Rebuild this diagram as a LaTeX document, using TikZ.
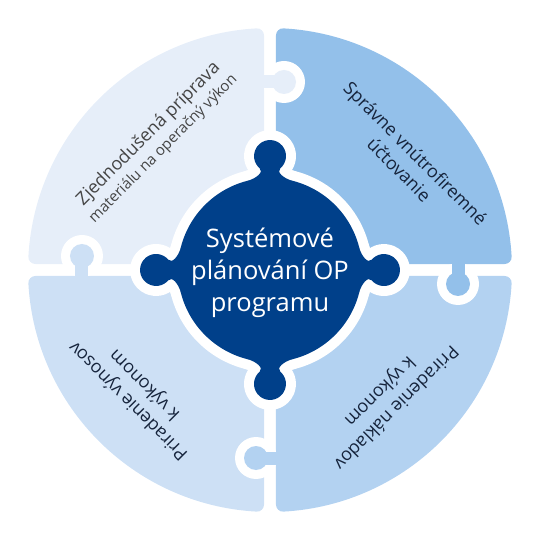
\documentclass[tikz,border=0pt]{standalone}
\usepackage{fontspec}
\setmainfont{Open Sans}
\definecolor{pieceTL}{HTML}{E6EEF9}
\definecolor{pieceTR}{HTML}{93C0EA}
\definecolor{pieceBR}{HTML}{B3D2F1}
\definecolor{pieceBL}{HTML}{CDE0F5}
\definecolor{hub}{HTML}{00408A}
\definecolor{ink}{HTML}{16243C}
\definecolor{muted}{HTML}{454545}
\tikzset{
  lbl/.style={text=ink, align=center, inner sep=0pt, font=\fontsize{18}{23}\selectfont},
  hubtext/.style={text=white, align=center, inner sep=0pt, font=\fontsize{25.5}{32}\selectfont},
}

\begin{document}
\begin{tikzpicture}[x=1pt, y=1pt]

\def\Rh{92}           % hub radius, pt
\def\hh{10}           % white halo round the hub
\useasboundingbox (-270,-270) rectangle (270,270);

% ---------------- quadrant pieces ----------------
\foreach \a/\c in {0/pieceTR, 90/pieceTL, 180/pieceBL, 270/pieceBR} {
  \begin{scope}[rotate=\a]
    % shrunk quarter, stroked round to get the soft corners
    \filldraw[\c, line width=14pt, line join=round] (13,13) -- (3.17:235pt)
      arc[start angle=3.17, end angle=86.83, radius=235pt] -- cycle;
  \end{scope}
}

% ---------------- puzzle tabs ----------------
\foreach \a in {0,90,180,270} {
  \begin{scope}[rotate=\a]
    \fill[white] (188,-14) circle (21pt);
  \end{scope}
}
\foreach \a/\c in {0/pieceTR, 90/pieceTL, 180/pieceBL, 270/pieceBR} {
  \begin{scope}[rotate=\a]
    \fill[\c] (181.5,8) rectangle (194.5,-14);
    \fill[\c] (188,-14) circle (12pt);
  \end{scope}
}

% ---------------- hub with four knobs ----------------
\fill[white] (0,0) circle (\Rh pt + \hh pt);
\foreach \a in {0,90,180,270} {
  \begin{scope}[rotate=\a]
    \draw[white, line width=2*\hh pt, line join=round] (-14:\Rh pt)
      .. controls (91.2,-14.5) and (97.9,-5.7) .. (101.7,-10.3)
      arc[start angle=-140, end angle=140, radius=16pt]
      .. controls (97.9,5.7) and (91.2,14.5) .. (14:\Rh pt) -- cycle;
  \end{scope}
}
\fill[hub] (0,0) circle (\Rh pt);
\foreach \a in {0,90,180,270} {
  \begin{scope}[rotate=\a]
    \fill[hub] (-14:\Rh pt)
      .. controls (91.2,-14.5) and (97.9,-5.7) .. (101.7,-10.3)
      arc[start angle=-140, end angle=140, radius=16pt]
      .. controls (97.9,5.7) and (91.2,14.5) .. (14:\Rh pt) -- cycle;
  \end{scope}
}
\node[hubtext] (hubtitle) at (0,-3) {Systémové\\plánování OP\\programu};

% ---------------- labels ----------------
\node[lbl, text=muted, rotate=45, font=\fontsize{18}{20}\selectfont] (tltext) at (-114.5,129)
  {Zjednodušená príprava\\{\fontsize{15}{18}\selectfont materiálu na operačný výkon}};
\node[lbl, rotate=-45] (trtext) at (137.5,108.5) {Správne vnútrofiremné\\účtovanie};
\node[lbl, rotate=-135] (brtext) at (117.5,-129) {Priradenie nákladov\\k výkonom};
\node[lbl, rotate=135] (bltext) at (-133,-122.5) {Priradenie výnosov\\k výkonom};

\end{tikzpicture}
\end{document}
